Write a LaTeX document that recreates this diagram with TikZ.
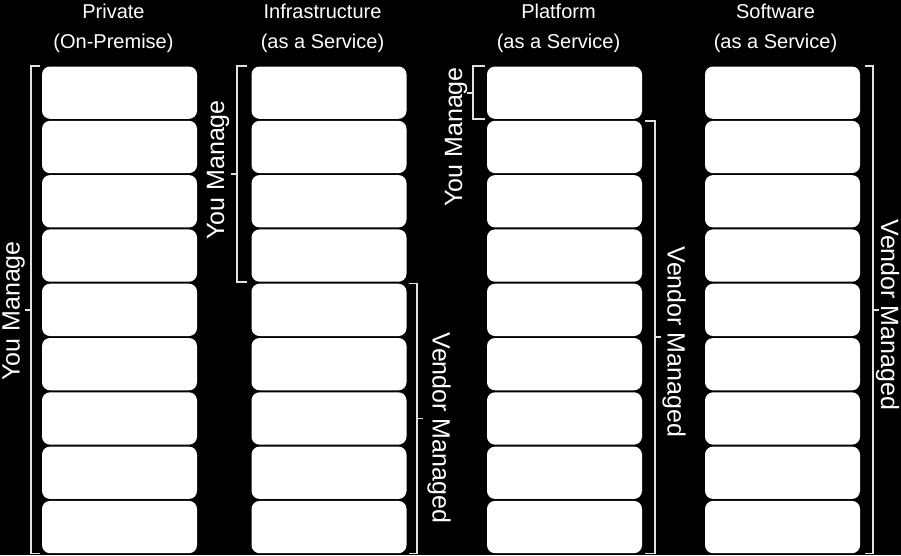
\documentclass[tikz,border=0pt]{standalone}
\usepackage{fontspec}
\setmainfont{Liberation Sans}
\tikzstyle{layer} = [rectangle, fill=white, rounded corners=8pt,
    minimum width=155pt, minimum height=52.3pt, inner sep=0pt]
\tikzstyle{bracket} = [draw=white!88!black, line width=1.8pt]
\tikzstyle{heading} = [text=white, align=center, anchor=north, inner sep=0pt,
    font=\fontsize{20}{30}\selectfont]
\tikzstyle{sidelabel} = [text=white, inner sep=0pt, font=\fontsize{25}{30}\selectfont]

\begin{document}
\begin{tikzpicture}[x=1pt, y=-1pt, node distance=54.3pt]
    % Black page, it also fixes the size of the picture
    \useasboundingbox[fill=black] (0,0) rectangle (901,555);
    % We start by stacking the nine layers of each column
    \foreach \col/\x in {pri/119.5, iaas/329, paas/564.5, saas/782.5} {
        \node [layer] (\col1) at (\x,92.65) {};
        \foreach \i [remember=\i as \j (initially 1)] in {2,...,9}
            \node [layer, below of=\col\j] (\col\i) {};
    }
    % Column headings
    \node [heading] (priT) at (113.5,3.6) {Private\\(On-Premise)};
    \node [heading] (iaasT) at (322.5,3.6) {Infrastructure\\(as a Service)};
    \node [heading] (paasT) at (558.5,3.6) {Platform\\(as a Service)};
    \node [heading] (saasT) at (775.5,3.6) {Software\\(as a Service)};

    % The brackets; the middle of each one gets a small tick
    \draw [bracket] ([xshift=-2pt]pri1.north west) -- ([xshift=-11pt]pri1.north west)
        -- coordinate (priM) ([xshift=-11pt]pri9.south west) -- ([xshift=-2pt]pri9.south west);
    \draw [bracket] (priM) -- ++(-6,0);
    \draw [bracket] ([xshift=-4pt]iaas1.north west) -- ([xshift=-14pt]iaas1.north west)
        -- coordinate (iaasM) ([xshift=-14pt]iaas4.south west) -- ([xshift=-4pt]iaas4.south west);
    \draw [bracket] (iaasM) -- ++(-6,0);
    \draw [bracket] ([xshift=2pt]iaas5.north east) -- ([xshift=10pt]iaas5.north east)
        -- coordinate (iaasV) ([xshift=10pt]iaas9.south east) -- ([xshift=2pt]iaas9.south east);
    \draw [bracket] (iaasV) -- ++(6,0);
    \draw [bracket] ([xshift=-2pt]paas1.north west) -- ([xshift=-14pt]paas1.north west)
        -- coordinate (paasM) ([xshift=-14pt]paas1.south west) -- ([xshift=-2pt]paas1.south west);
    \draw [bracket] (paasM) -- ++(-6,0);
    \draw [bracket] ([xshift=3pt]paas2.north east) -- ([xshift=13pt]paas2.north east)
        -- coordinate (paasV) ([xshift=13pt]paas9.south east) -- ([xshift=3pt]paas9.south east);
    \draw [bracket] (paasV) -- ++(6,0);
    \draw [bracket] ([xshift=5pt]saas1.north east) -- ([xshift=13pt]saas1.north east)
        -- coordinate (saasV) ([xshift=13pt]saas9.south east) -- ([xshift=5pt]saas9.south east);
    \draw [bracket] (saasV) -- ++(6,0);

    % Labels beside the brackets
    \node [sidelabel, rotate=90] (priY) at (13.5,311) {You Manage};
    \node [sidelabel, rotate=90] (iaasY) at (218,170) {You Manage};
    \node [sidelabel, rotate=-90] (iaasL) at (439,428) {Vendor Managed};
    \node [sidelabel, rotate=90] (paasY) at (456,137) {You Manage};
    \node [sidelabel, rotate=-90] (paasL) at (674,342) {Vendor Managed};
    \node [sidelabel, rotate=-90] (saasL) at (887.5,315) {Vendor Managed};
\end{tikzpicture}
\end{document}
